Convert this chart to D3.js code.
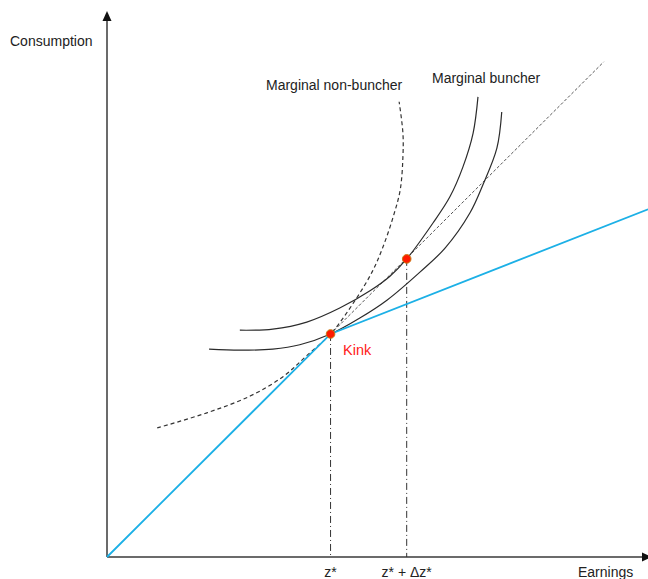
<!DOCTYPE html>
<html>
<head>
<meta charset="utf-8">
<script src="https://cdn.jsdelivr.net/npm/d3@7"></script>
<style>
  html, body { margin: 0; padding: 0; background: #fff; }
  svg { display: block; }
</style>
</head>
<body>
<div id="graphic"></div>
<script>
// bunching diagram: budget line with a kink + indifference curves

const width = 648;
const height = 579;

// --------------------
// Data (earnings, consumption)
// --------------------
const budgetLine = [[0, 0], [4.14, 4.13], [10.02, 6.44]];
const kinkPoint = [4.14, 4.13];
const bunchPoint = [5.55, 5.52];
const oldLineExt = [[4.14, 4.13], [9.20, 9.17]];

const marginalBuncherLow = [
  [1.89, 3.85], [2.46, 3.83], [3.07, 3.85], [3.57, 3.93], [4.14, 4.13],
  [4.69, 4.43], [5.19, 4.76], [5.80, 5.28], [6.26, 5.72], [6.72, 6.37],
  [6.96, 6.89], [7.22, 7.57], [7.31, 8.24]
];
const marginalBuncherHigh = [
  [2.46, 4.20], [3.07, 4.22], [3.70, 4.35], [4.31, 4.61], [4.87, 4.93],
  [5.24, 5.20], [5.55, 5.52], [6.04, 6.19], [6.35, 6.67], [6.59, 7.22],
  [6.78, 7.85], [6.87, 8.52]
];
const marginalNonBuncher = [
  [0.93, 2.39], [1.85, 2.67], [2.65, 2.98], [3.26, 3.34], [3.70, 3.73],
  [4.14, 4.13], [4.56, 4.70], [4.91, 5.28], [5.11, 5.74], [5.30, 6.30],
  [5.43, 6.80], [5.48, 7.41], [5.48, 7.85], [5.41, 8.43]
];

const tickLabels = ["z*", "z* + \u0394z*"];

// --------------------
// Setup
// --------------------
const x = d3.scaleLinear().domain([0, 10]).range([107, 647]);
const y = d3.scaleLinear().domain([0, 10]).range([557, 17]);

const root = d3.select("#graphic");
const svg = root.append("svg")
  .attr("width", width)
  .attr("height", height)
  .attr("viewBox", `0 0 ${width} ${height}`)
  .style("font-family", "'Liberation Sans', Arial, sans-serif");

const line = d3.line().x(d => x(d[0])).y(d => y(d[1]));
const curve = d3.line().x(d => x(d[0])).y(d => y(d[1])).curve(d3.curveCatmullRom.alpha(0.5));

// --------------------
// Axes (arrows)
// --------------------
const axisColor = "#3a3a3a";
svg.append("line")
  .attr("x1", x(0)).attr("y1", y(0))
  .attr("x2", x(0)).attr("y2", 20)
  .attr("stroke", axisColor).attr("stroke-width", 1.5);
svg.append("path")
  .attr("d", `M${x(0)},11 L${x(0) - 4.5},21 L${x(0) + 4.5},21 Z`)
  .attr("fill", "#111");

svg.append("line")
  .attr("x1", x(0)).attr("y1", y(0))
  .attr("x2", 643).attr("y2", y(0))
  .attr("stroke", axisColor).attr("stroke-width", 1.5);
svg.append("path")
  .attr("d", `M652,${y(0)} L642,${y(0) - 4.5} L642,${y(0) + 4.5} Z`)
  .attr("fill", "#111");

// --------------------
// Guides
// --------------------
[kinkPoint, bunchPoint].forEach(p => {
  svg.append("line")
    .attr("x1", x(p[0])).attr("y1", y(p[1]))
    .attr("x2", x(p[0])).attr("y2", y(0))
    .attr("stroke", "#333")
    .attr("stroke-width", 1)
    .attr("stroke-dasharray", "7,3,1,3");
});

// extension of the old budget line
svg.append("path")
  .datum(oldLineExt)
  .attr("d", line)
  .attr("fill", "none")
  .attr("stroke", "#555")
  .attr("stroke-width", 1)
  .attr("stroke-dasharray", "3,2");

// --------------------
// Indifference curves
// --------------------
svg.append("path")
  .datum(marginalNonBuncher)
  .attr("d", curve)
  .attr("fill", "none")
  .attr("stroke", "#333")
  .attr("stroke-width", 1.2)
  .attr("stroke-dasharray", "4,3");

[marginalBuncherLow, marginalBuncherHigh].forEach(c => {
  svg.append("path")
    .datum(c)
    .attr("d", curve)
    .attr("fill", "none")
    .attr("stroke", "#2b2b2b")
    .attr("stroke-width", 1.2);
});

// budget line
svg.append("path")
  .datum(budgetLine)
  .attr("d", line)
  .attr("fill", "none")
  .attr("stroke", "#1cb0e6")
  .attr("stroke-width", 1.8);

// points
svg.selectAll("circle.pt")
  .data([kinkPoint, bunchPoint])
  .join("circle")
  .attr("class", "pt")
  .attr("cx", d => x(d[0]))
  .attr("cy", d => y(d[1]))
  .attr("r", 4.3)
  .attr("fill", "#ff1a00")
  .attr("stroke", "#c87a10")
  .attr("stroke-width", 1);

// --------------------
// Labels
// --------------------
const fs = 14;
svg.append("text").attr("x", 10).attr("y", 45.5).attr("font-size", fs).attr("fill", "#222").text("Consumption");
svg.append("text").attr("x", 578).attr("y", 577).attr("font-size", fs).attr("fill", "#222").text("Earnings");
svg.append("text").attr("x", 266).attr("y", 90).attr("font-size", fs).attr("fill", "#222").text("Marginal non-buncher");
svg.append("text").attr("x", 432).attr("y", 83).attr("font-size", fs).attr("fill", "#222").text("Marginal buncher");
svg.append("text").attr("x", 343).attr("y", 355).attr("font-size", 14.5).attr("fill", "#ff2020").text("Kink");

svg.selectAll("text.tick")
  .data([kinkPoint, bunchPoint])
  .join("text")
  .attr("class", "tick")
  .attr("x", d => x(d[0]))
  .attr("y", 577)
  .attr("text-anchor", "middle")
  .attr("font-size", fs)
  .attr("fill", "#222")
  .text((d, i) => tickLabels[i]);
</script>
</body>
</html>
